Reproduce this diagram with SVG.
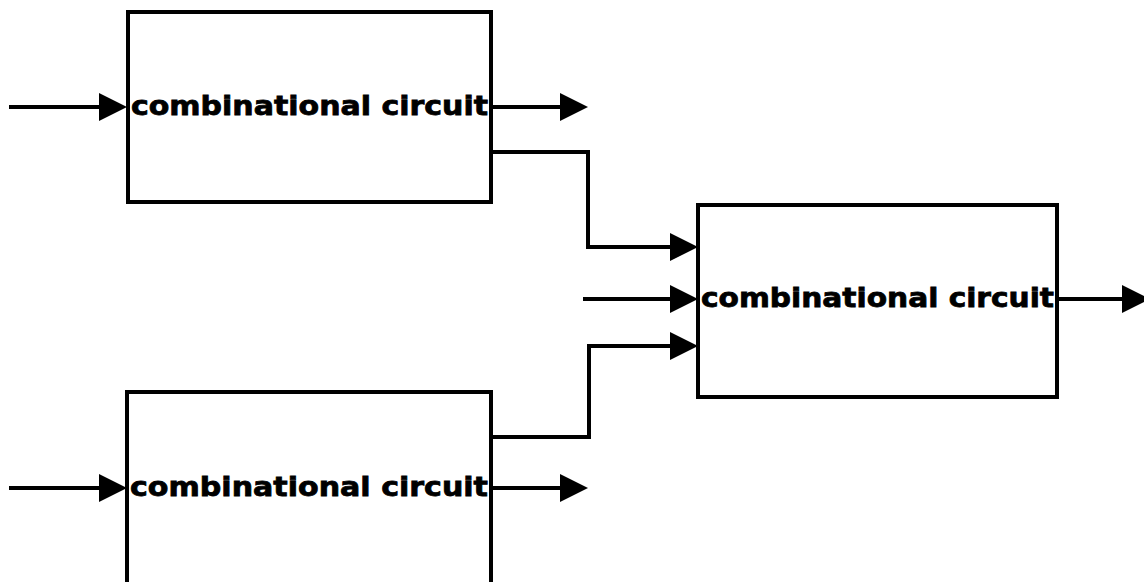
<svg xmlns="http://www.w3.org/2000/svg" width="1144" height="582" viewBox="0 0 1144 582">
<defs>
<style>
.box{fill:none;stroke:#000;stroke-width:4}
.wire{fill:none;stroke:#000;stroke-width:4;stroke-linejoin:miter}
.lbl{font-family:"DejaVu Sans","Liberation Sans",sans-serif;font-weight:bold;font-size:27px;fill:#000;stroke:#000;stroke-width:0.8}
</style>
<marker id="ah" markerUnits="userSpaceOnUse" markerWidth="30" markerHeight="30" refX="8" refY="14" orient="auto" viewBox="0 0 30 28">
<path d="M0,0 L28,14 L0,28 Z" fill="#000"/>
</marker>
</defs>
<rect width="1144" height="582" fill="#fff"/>
<g id="node-top">
<rect class="box" x="128" y="12" width="363" height="190"/>
<text class="lbl" x="131" y="115" textLength="357" lengthAdjust="spacingAndGlyphs">combinational circuit</text>
</g>
<g id="node-right">
<rect class="box" x="698" y="205" width="359" height="192"/>
<text class="lbl" x="701" y="307" textLength="353" lengthAdjust="spacingAndGlyphs">combinational circuit</text>
</g>
<g id="node-bottom">
<path class="box" d="M127,590 L127,392 L491,392 L491,590"/>
<text class="lbl" x="130" y="496" textLength="358" lengthAdjust="spacingAndGlyphs">combinational circuit</text>
</g>
<g id="connectors">
<line class="wire" x1="9" y1="107" x2="107" y2="107" marker-end="url(#ah)"/>
<line class="wire" x1="491" y1="107" x2="568" y2="107" marker-end="url(#ah)"/>
<polyline class="wire" points="491,152 588,152 588,247 678,247" marker-end="url(#ah)"/>
<line class="wire" x1="583" y1="299" x2="678" y2="299" marker-end="url(#ah)"/>
<polyline class="wire" points="491,437 589,437 589,346 678,346" marker-end="url(#ah)"/>
<line class="wire" x1="1057" y1="299" x2="1130" y2="299" marker-end="url(#ah)"/>
<line class="wire" x1="9" y1="488" x2="107" y2="488" marker-end="url(#ah)"/>
<line class="wire" x1="491" y1="488" x2="568" y2="488" marker-end="url(#ah)"/>
</g>
</svg>
